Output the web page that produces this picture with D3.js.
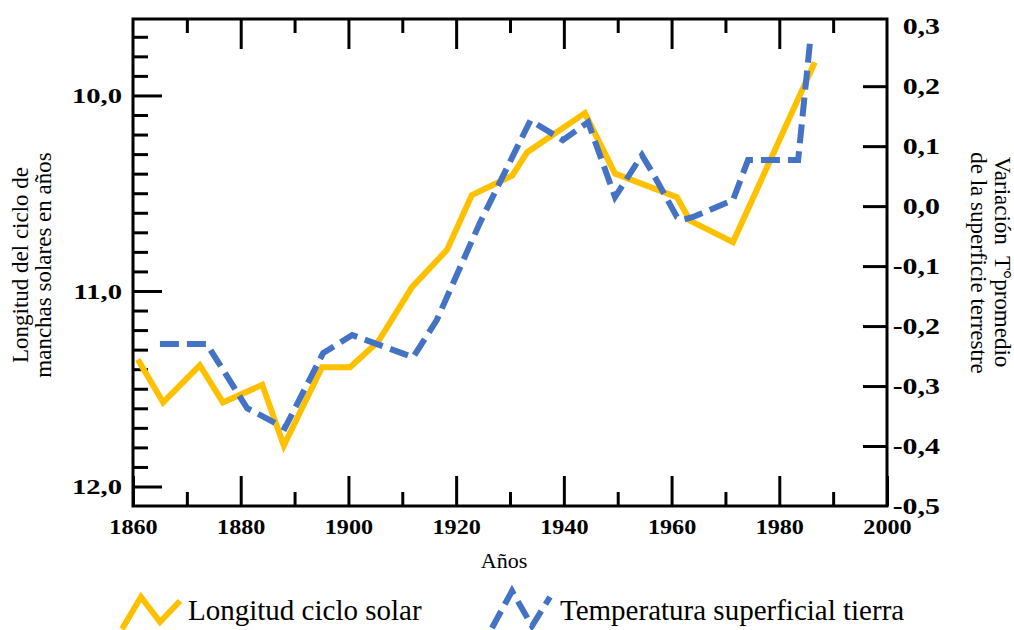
<!DOCTYPE html>
<html>
<head>
<meta charset="utf-8">
<script src="https://cdn.jsdelivr.net/npm/d3@7"></script>
<style>
  body { margin: 0; background: #fff; }
  text { font-family: "Liberation Serif", "Times New Roman", serif; fill: #000; }
  .tick line { stroke: #000; stroke-width: 3; }
</style>
</head>
<body>
<script>
// longitud del ciclo solar (eje izq, invertido)
var solarYears  = [1860.9, 1865.6, 1872.4, 1876.7, 1884.0, 1888.0, 1895.1, 1900.3, 1905.5, 1911.8, 1918.3, 1922.9, 1930.4, 1933.2, 1943.9, 1949.5, 1961.0, 1963.4, 1971.4, 1986.6];
var solarLength = [11.35, 11.57, 11.38, 11.57, 11.48, 11.79, 11.39, 11.39, 11.26, 10.98, 10.79, 10.51, 10.41, 10.29, 10.09, 10.40, 10.52, 10.64, 10.75, 9.83];

// variacion de temperatura (eje der)
var tempYears = [1865.0, 1873.7, 1881.2, 1888.2, 1895.3, 1900.7, 1912.0, 1916.4, 1924.4, 1933.8, 1939.8, 1944.5, 1949.5, 1954.5, 1956.5, 1961.0, 1962.1, 1964.0, 1971.4, 1974.2, 1983.5, 1985.7];
var tempAnom  = [-0.23, -0.23, -0.337, -0.37, -0.245, -0.215, -0.252, -0.19, -0.028, 0.143, 0.11, 0.14, 0.015, 0.085, 0.055, -0.018, -0.023, -0.018, 0.01, 0.077, 0.077, 0.273];

var yearMajor = [1860, 1880, 1900, 1920, 1940, 1960, 1980, 2000];
var yearMinor = [1870, 1890, 1910, 1930, 1950, 1970, 1990];
var leftMajor = [10, 11, 12];
var leftMinor = d3.range(97, 120).map(function(d){ return d/10; }).filter(function(d){ return d % 1 !== 0; });
var rightTicks = [-0.4, -0.3, -0.2, -0.1, 0, 0.1, 0.2];
var rightLabels = [-0.5, 0.3];

var L = 133, R = 887, T = 19, B = 506;

var svg = d3.select("body").append("svg")
    .attr("width", 1014)
    .attr("height", 630);

var x = d3.scaleLinear().domain([1860, 2000]).range([L, R]);
var yL = d3.scaleLinear().domain([9.609, 12.0997]).range([T, B]);
var yR = d3.scaleLinear().domain([-0.5, 0.312]).range([B, T]);

var comma = function(d){ return d.toFixed(1).replace(".", ","); };

// eje x abajo
svg.append("g").attr("transform", "translate(0," + B + ")")
    .call(d3.axisBottom(x).tickValues(yearMinor).tickSizeInner(-14).tickSizeOuter(0).tickFormat(""));
var gx = svg.append("g").attr("class", "lab bot").attr("transform", "translate(0," + B + ")")
    .call(d3.axisBottom(x).tickValues(yearMajor).tickSizeInner(-30).tickSizeOuter(0).tickPadding(13).tickFormat(d3.format("d")));

// arriba
svg.append("g").attr("transform", "translate(0," + T + ")")
    .call(d3.axisTop(x).tickValues(yearMinor).tickSizeInner(-14).tickSizeOuter(0).tickFormat(""));
svg.append("g").attr("transform", "translate(0," + T + ")")
    .call(d3.axisTop(x).tickValues(yearMajor.slice(1, -1)).tickSizeInner(-30).tickSizeOuter(0).tickFormat(""));

// izquierda
svg.append("g").attr("transform", "translate(" + L + ",0)")
    .call(d3.axisLeft(yL).tickValues(leftMinor).tickSizeInner(-15).tickSizeOuter(0).tickFormat(""));
svg.append("g").attr("class", "lab left").attr("transform", "translate(" + L + ",0)")
    .call(d3.axisLeft(yL).tickValues(leftMajor).tickSizeInner(-29).tickSizeOuter(0).tickPadding(11).tickFormat(comma));

// derecha
var gr = svg.append("g").attr("class", "lab right").attr("transform", "translate(" + R + ",0)")
    .call(d3.axisRight(yR).tickValues(rightTicks).tickSizeInner(-24).tickSizeOuter(0).tickPadding(53).tickFormat(comma));
svg.append("g").attr("class", "lab right").attr("transform", "translate(" + R + ",0)")
    .call(d3.axisRight(yR).tickValues(rightLabels).tickSizeInner(0).tickSizeOuter(0).tickPadding(53).tickFormat(comma));

svg.selectAll(".domain").remove();
svg.selectAll(".lab text").style("font-weight", "bold").style("font-size", "22px");
svg.selectAll(".bot text").style("font-size", "21px");
svg.selectAll(".right text").attr("text-anchor", "end").style("font-size", "23px");

// marco
svg.append("rect")
    .attr("x", L).attr("y", T).attr("width", R - L).attr("height", B - T)
    .attr("fill", "none").attr("stroke", "#000").attr("stroke-width", 3);

// lineas
var solarData = solarYears.map(function(d, i){ return [d, solarLength[i]]; });
var tempData = tempYears.map(function(d, i){ return [d, tempAnom[i]]; });

svg.append("path")
    .datum(solarData)
    .attr("fill", "none")
    .attr("stroke", "#FFC000")
    .attr("stroke-width", 6)
    .attr("d", d3.line().x(function(d){ return x(d[0]); }).y(function(d){ return yL(d[1]); }));

svg.append("path")
    .datum(tempData)
    .attr("fill", "none")
    .attr("stroke", "#4472C4")
    .attr("stroke-width", 6)
    .attr("stroke-dasharray", "19,8")
    .attr("d", d3.line().x(function(d){ return x(d[0]); }).y(function(d){ return yR(d[1]); }));

// titulos de ejes
svg.append("text")
    .attr("transform", "translate(28,265) rotate(-90)")
    .attr("text-anchor", "middle")
    .style("font-size", "23px")
    .text("Longitud del ciclo de");
svg.append("text")
    .attr("transform", "translate(51,265) rotate(-90)")
    .attr("text-anchor", "middle")
    .style("font-size", "23px")
    .text("manchas solares en años");

svg.append("text")
    .attr("transform", "translate(995,262) rotate(90)")
    .attr("text-anchor", "middle")
    .style("font-size", "23px")
    .style("white-space", "pre")
    .text("Variación  T°promedio");
svg.append("text")
    .attr("transform", "translate(971,263) rotate(90)")
    .attr("text-anchor", "middle")
    .style("font-size", "23px")
    .text("de la superficie terrestre");

svg.append("text")
    .attr("x", 504).attr("y", 568)
    .attr("text-anchor", "middle")
    .style("font-size", "22px")
    .text("Años");

// leyenda
svg.append("path")
    .attr("d", "M122,629L141,597L160,622L180,601")
    .attr("fill", "none").attr("stroke", "#FFC000").attr("stroke-width", 6);
svg.append("text").attr("x", 188).attr("y", 620).style("font-size", "29px").text("Longitud ciclo solar");

svg.append("path")
    .attr("d", "M492,628L512,591L532,626L550,597")
    .attr("fill", "none").attr("stroke", "#4472C4").attr("stroke-width", 6)
    .attr("stroke-dasharray", "19,8");
svg.append("text").attr("x", 560).attr("y", 620).style("font-size", "29px").text("Temperatura superficial tierra");

// los numeros del original son mas anchos
svg.selectAll(".lab text").each(function(){
    var k = d3.select(this.parentNode.parentNode).classed("bot") ? 1.15 : 1.3;
    var w = this.getComputedTextLength();
    d3.select(this).attr("textLength", w * k).attr("lengthAdjust", "spacingAndGlyphs");
});
</script>
</body>
</html>
